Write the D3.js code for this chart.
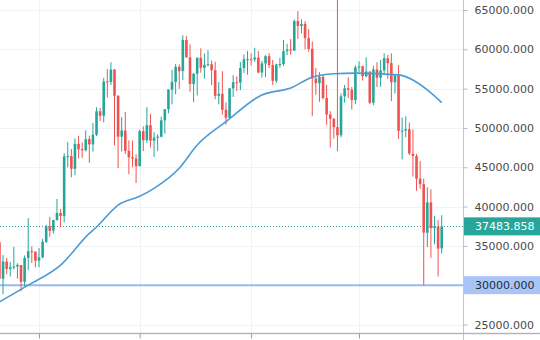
<!DOCTYPE html>
<html>
<head>
<meta charset="utf-8">
<script src="https://cdn.jsdelivr.net/npm/d3@7"></script>
<style>
  body { margin: 0; background: #ffffff; }
  svg { display: block; }
  text { font-family: "DejaVu Sans", Verdana, sans-serif; }
</style>
</head>
<body>
<svg id="chart" width="540" height="340"></svg>
<script>
// Daily BTC/USDT candles, 21 Jan – 24 May 2021
const dates = [
  "2021-01-21","2021-01-22","2021-01-23","2021-01-24","2021-01-25","2021-01-26","2021-01-27","2021-01-28","2021-01-29","2021-01-30","2021-01-31",
  "2021-02-01","2021-02-02","2021-02-03","2021-02-04","2021-02-05","2021-02-06","2021-02-07","2021-02-08","2021-02-09","2021-02-10",
  "2021-02-11","2021-02-12","2021-02-13","2021-02-14","2021-02-15","2021-02-16","2021-02-17","2021-02-18","2021-02-19","2021-02-20",
  "2021-02-21","2021-02-22","2021-02-23","2021-02-24","2021-02-25","2021-02-26","2021-02-27","2021-02-28",
  "2021-03-01","2021-03-02","2021-03-03","2021-03-04","2021-03-05","2021-03-06","2021-03-07","2021-03-08","2021-03-09","2021-03-10",
  "2021-03-11","2021-03-12","2021-03-13","2021-03-14","2021-03-15","2021-03-16","2021-03-17","2021-03-18","2021-03-19","2021-03-20",
  "2021-03-21","2021-03-22","2021-03-23","2021-03-24","2021-03-25","2021-03-26","2021-03-27","2021-03-28","2021-03-29","2021-03-30","2021-03-31",
  "2021-04-01","2021-04-02","2021-04-03","2021-04-04","2021-04-05","2021-04-06","2021-04-07","2021-04-08","2021-04-09","2021-04-10",
  "2021-04-11","2021-04-12","2021-04-13","2021-04-14","2021-04-15","2021-04-16","2021-04-17","2021-04-18","2021-04-19","2021-04-20",
  "2021-04-21","2021-04-22","2021-04-23","2021-04-24","2021-04-25","2021-04-26","2021-04-27","2021-04-28","2021-04-29","2021-04-30",
  "2021-05-01","2021-05-02","2021-05-03","2021-05-04","2021-05-05","2021-05-06","2021-05-07","2021-05-08","2021-05-09","2021-05-10",
  "2021-05-11","2021-05-12","2021-05-13","2021-05-14","2021-05-15","2021-05-16","2021-05-17","2021-05-18","2021-05-19","2021-05-20",
  "2021-05-21","2021-05-22","2021-05-23","2021-05-24"
];

const opens = [
  35468,30817,33005,32068,32289,32366,32564,30432,33466,34318,34270,
  33114,33533,35510,37476,36931,38290,39181,38795,46374,46420,44808,47968,47298,47157,48580,47911,49133,52117,51550,55906,55841,57412,54087,48891,49677,47073,46277,46103,
  45134,49595,48436,50349,48374,48747,48882,50959,52376,54874,55851,57773,57238,61188,58976,55605,56900,58913,57641,58031,58100,57351,54083,54342,52303,51294,55025,55817,55782,57628,58730,
  58739,58720,58950,57051,58202,59130,57990,56000,58076,58131,59770,59964,59835,63588,62972,63229,61428,60067,56274,55696,56499,53801,51701,51188,50101,49067,54030,55036,54859,53568,
  57697,57825,56578,57169,53200,57436,56393,57315,58866,58240,55816,56670,49537,49671,49844,46724,46426,43538,42845,36671,40526,37253,37448,34681
];

const highs = [
  36415,33826,33456,32944,34875,32794,32564,33783,38531,34934,34288,
  34717,35896,37662,38708,38310,40955,39700,46794,48200,47310,48678,48985,48150,49707,49010,50623,52619,52530,56368,57493,58352,57508,54183,51374,52041,48424,48394,46638,
  49790,50200,52640,51773,49448,49200,51450,52402,54900,57387,58150,58081,61788,61683,60633,56938,58982,60129,59468,59880,58589,58430,55830,57200,53238,55073,56700,56559,58405,59368,59800,
  59490,60200,59791,58529,59260,59500,58650,58156,58900,61200,60700,61300,63777,64854,63800,63594,62572,61000,57600,57100,56757,55500,52130,51200,69000,54400,55460,56428,55200,57963,
  58458,57912,58981,57200,57911,58360,58650,59500,59300,59500,56862,58000,51330,51483,50700,49800,46686,45799,43547,42451,42200,38832,38270,38900
];

const lows = [
  30071,28850,31390,31106,32000,30837,29241,29842,31915,32825,32270,
  32296,33418,35362,36161,36570,38215,37351,37988,45000,43727,43994,46125,46202,47015,45570,47003,48947,50902,50710,53863,55477,47800,44892,47003,46674,44106,45000,43000,
  45115,47047,48100,47500,46300,47070,48800,49274,51845,53005,54273,54962,56083,58963,54600,53272,54123,57023,56270,57820,55450,53650,53000,51700,50427,51225,53950,54691,54800,57000,56769,
  57935,58428,56955,56400,56478,57600,55473,55700,57666,57875,59267,59300,59800,61301,62020,60000,59700,51500,54221,53329,53610,50400,47500,48657,47044,48800,53222,53813,52330,53013,
  57052,56035,56435,53046,52900,55200,55241,56900,56235,53400,54370,48600,46000,48800,46555,43825,42001,42250,30000,34850,33488,35200,31111,34031
];

const closes = [
  30825,33005,32067,32289,32366,32570,30432,33467,34316,34269,33114,
  33537,35510,37472,36926,38290,39186,38795,46374,46420,44807,47969,47287,47153,48577,47911,49133,52119,51552,55906,55841,57408,54087,48891,49677,47073,46277,46106,45135,
  49587,48440,50349,48374,48751,48882,50971,52375,54884,55851,57773,57221,61188,58968,55605,56900,58912,57649,58030,58102,57352,54083,54340,52303,51293,55025,55817,55777,57628,58730,58741,
  58720,58950,57051,58202,59129,57992,56000,58076,58131,59770,59964,59835,63589,62971,63229,61427,60058,56274,55696,56499,53801,51701,51188,50101,49058,54021,55034,54856,53555,57698,
  57828,56578,57169,53200,57436,56393,57314,58862,58240,55816,56670,49631,49671,49840,46762,46431,43538,42849,36690,40526,37252,37449,34655,37483.858
];

// Moving average, sampled along its course
const maDates  = ["2021-01-21","2021-01-29","2021-02-07","2021-02-15","2021-02-17","2021-02-23","2021-03-01","2021-03-05","2021-03-12",
                  "2021-03-17","2021-03-25","2021-04-04","2021-04-12","2021-04-18","2021-04-24","2021-04-30","2021-05-12","2021-05-16","2021-05-20","2021-05-24"];
const maValues = [27870,30000,32550,36590,37400,40190,41300,42320,44870,
                  47830,50800,54200,55070,56460,56890,56970,56750,56100,54840,53220];

const priceTicks = [25000,30000,35000,40000,45000,50000,55000,60000,65000];
const monthTicks = ["2021-02-01","2021-03-01","2021-04-01","2021-05-01"];
const supportLevel = 30000;

const W = 540, H = 340;
const plotRight = 463, plotBottom = 333;
const parse = d3.utcParse("%Y-%m-%d");

const candles = dates.map((d, i) => ({
  date: parse(d), open: opens[i], high: highs[i], low: lows[i], close: closes[i]
}));
const lastClose = closes[closes.length - 1];

const x = d3.scaleUtc()
  .domain([parse("2021-02-01"), parse("2021-05-01")])
  .range([39, 359]);
const y = d3.scaleLinear()
  .domain([25000, 65000])
  .range([324.5, 10]);

const svg = d3.select("#chart");
svg.append("rect").attr("width", W).attr("height", H).attr("fill", "#ffffff");

svg.append("defs").append("clipPath").attr("id", "plot-clip")
  .append("rect").attr("x", 0).attr("y", 0).attr("width", plotRight).attr("height", plotBottom);

const plot = svg.append("g").attr("clip-path", "url(#plot-clip)");

// grid
plot.append("g").selectAll("line").data(priceTicks).join("line")
  .attr("x1", 0).attr("x2", plotRight)
  .attr("y1", d => Math.round(y(d)) + 0.5).attr("y2", d => Math.round(y(d)) + 0.5)
  .attr("stroke", "#f0f2f5").attr("stroke-width", 1);
plot.append("g").selectAll("line").data(monthTicks).join("line")
  .attr("x1", d => Math.round(x(parse(d))) + 0.5).attr("x2", d => Math.round(x(parse(d))) + 0.5)
  .attr("y1", 0).attr("y2", plotBottom)
  .attr("stroke", "#f0f2f5").attr("stroke-width", 1);

// support level
plot.append("line")
  .attr("x1", 0).attr("x2", plotRight)
  .attr("y1", y(supportLevel)).attr("y2", y(supportLevel))
  .attr("stroke", "#9ab8ee").attr("stroke-width", 2);

// last price line
plot.append("line")
  .attr("x1", 0).attr("x2", plotRight)
  .attr("y1", Math.round(y(lastClose)) + 0.5).attr("y2", Math.round(y(lastClose)) + 0.5)
  .attr("stroke", "#26a69a").attr("stroke-width", 1).attr("stroke-dasharray", "1,2");

// candles
const up = "#26a69a", down = "#ef5350";
const bodyW = 2.6;
const cg = plot.append("g");
cg.selectAll("line").data(candles).join("line")
  .attr("x1", d => x(d.date)).attr("x2", d => x(d.date))
  .attr("y1", d => y(d.high)).attr("y2", d => y(d.low))
  .attr("stroke", d => d.close >= d.open ? up : down)
  .attr("stroke-width", 1);
cg.selectAll("rect").data(candles).join("rect")
  .attr("x", d => x(d.date) - bodyW / 2)
  .attr("width", bodyW)
  .attr("y", d => y(Math.max(d.open, d.close)))
  .attr("height", d => Math.max(1, Math.abs(y(d.open) - y(d.close))))
  .attr("fill", d => d.close >= d.open ? up : down);

// moving average
const maLine = d3.line()
  .x(d => x(d.date)).y(d => y(d.value))
  .curve(d3.curveMonotoneX);
plot.append("path")
  .datum(maDates.map((d, i) => ({ date: parse(d), value: maValues[i] })))
  .attr("d", maLine)
  .attr("fill", "none")
  .attr("stroke", "#4a9bd6")
  .attr("stroke-width", 1.6);

// price axis
const yAxis = d3.axisRight(y)
  .tickValues(priceTicks)
  .tickFormat(d3.format(".3f"))
  .tickSize(4).tickSizeOuter(0).tickPadding(7);
const ya = svg.append("g").attr("transform", `translate(${plotRight + 0.5},0)`).call(yAxis);
ya.select(".domain").attr("stroke", "#c4c6cc");
ya.selectAll(".tick line").attr("stroke", "#b8bac0");
ya.selectAll(".tick text").attr("fill", "#4a4a4a").attr("font-size", 11)
  .attr("font-family", "'DejaVu Sans', Verdana, sans-serif");
ya.select(".domain").attr("d", `M0,0V${H}`);

// time axis (labels fall below the visible area)
const xAxis = d3.axisBottom(x)
  .tickValues(monthTicks.map(parse))
  .tickFormat("")
  .tickSize(5).tickSizeOuter(0);
const xa = svg.append("g").attr("transform", `translate(0,${plotBottom + 0.5})`).call(xAxis);
xa.select(".domain").attr("d", `M0,0H${W}`).attr("stroke", "#b4b6bb").attr("stroke-width", 1.5);
xa.selectAll(".tick line").attr("stroke", "#9a9ca2");

// price labels on the axis
function axisTag(value, fill, color) {
  const g = svg.append("g");
  g.append("rect")
    .attr("x", plotRight + 1).attr("y", y(value) - 9)
    .attr("width", W - plotRight - 1).attr("height", 18)
    .attr("fill", fill);
  g.append("text")
    .attr("x", plotRight + 12).attr("y", y(value))
    .attr("dy", "0.35em")
    .attr("font-size", 11)
    .attr("fill", color)
    .text(d3.format(".3f")(value));
}
axisTag(lastClose, "#26a69a", "#ffffff");
axisTag(supportLevel, "#a9c5f5", "#1f2a3a");
</script>
</body>
</html>
